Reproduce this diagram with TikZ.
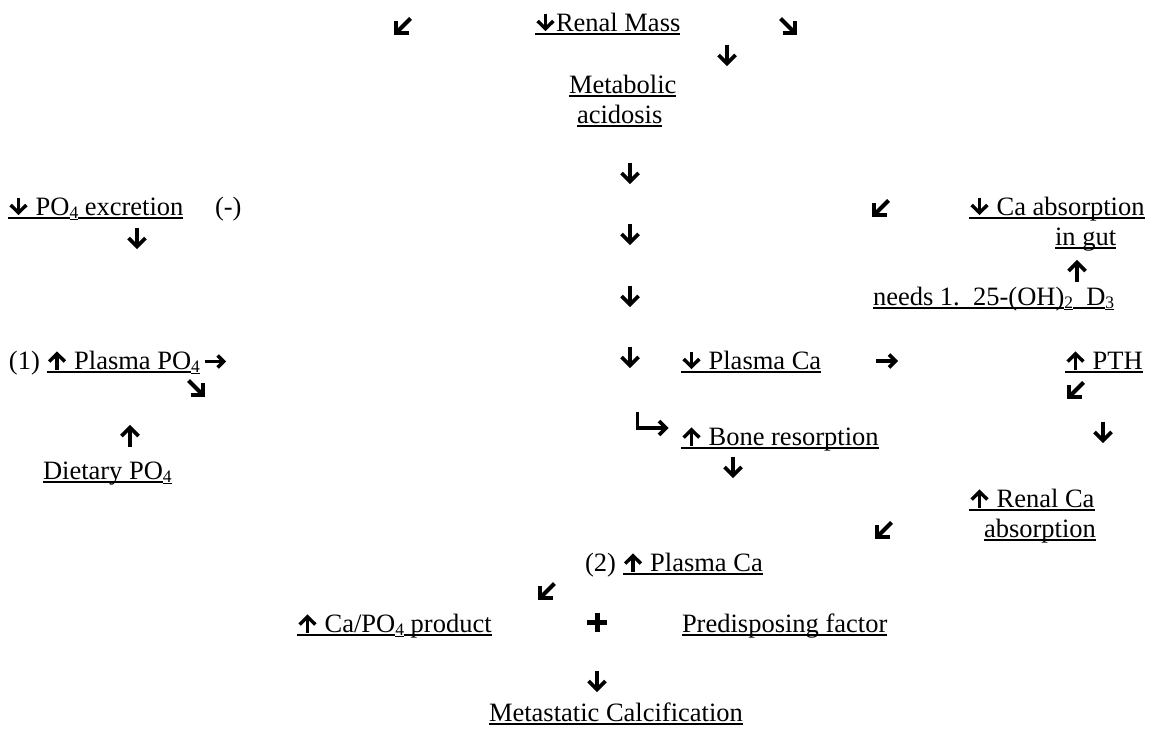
\documentclass[tikz,border=0pt]{standalone}
\usepackage{fontspec}
\setmainfont{Liberation Serif}
\newcommand{\ulx}[1]{\setbox0=\hbox{#1}\rlap{\rule[-3.6pt]{\wd0}{1.8pt}}\box0}
\newcommand{\sbu}[1]{\raisebox{-3.5pt}{\setbox0=\hbox{\fontsize{17.5}{18}\selectfont #1}\rlap{\rule[-1.8pt]{\wd0}{1.1pt}}\box0}}
\newcommand{\gdn}{\tikz[x=1pt,y=1pt,baseline=0pt,line width=3.5pt]{\path (-10.5,0) rectangle (10.5,17); \draw (0,17.5) -- (0,3); \draw[line join=miter] (-7.8,10) -- (0,2.3) -- (7.8,10);}}
\newcommand{\gup}{\tikz[x=1pt,y=1pt,baseline=0pt,line width=3.5pt]{\path (-10.5,0) rectangle (10.5,17); \draw (0,-0.5) -- (0,15); \draw[line join=miter] (-7.8,7.5) -- (0,15.2) -- (7.8,7.5);}}
\newcommand{\grt}{\tikz[x=1pt,y=1pt,baseline=0pt,line width=3.5pt]{\path (0,0) rectangle (23,15); \draw (1,7.5) -- (19,7.5); \draw[line join=miter] (14,1.5) -- (20,7.5) -- (14,13.5);}}
\tikzset{
  txt/.style={anchor=base west, inner sep=0pt, outer sep=0pt, font=\fontsize{26.5}{30}\selectfont},
  gline/.style={line width=3.6pt},
  dline/.style={line width=4.2pt},
  pics/gdown/.style={code={
    \draw[gline] (0,-10.5) -- (0,8);
    \draw[gline,line join=miter] (-8.5,0) -- (0,8.5) -- (8.5,0);
  }},
  pics/gright/.style={code={
    \draw[gline] (-11,0) -- (8,0);
    \draw[gline,line join=miter] (2,-6.5) -- (8.5,0) -- (2,6.5);
  }},
  pics/gdiag/.style={code={
    \draw[dline] (-7.5,-7.5) -- (5,5);
    \draw[dline,line join=miter] (-5.5,6.8) -- (6.8,6.8) -- (6.8,-5.5);
  }},
  pics/gplus/.style={code={
    \draw[line width=5pt] (-10,0) -- (10,0) (0,-9.5) -- (0,9.5);
  }}
}
\begin{document}
\begin{tikzpicture}[x=1pt,y=-1pt]
\useasboundingbox (0,0) rectangle (1156,728);
% text nodes
\node[txt] (renal) at (535,31) {\ulx{\gdn Renal Mass}};
\node[txt] (metab) at (569,93) {\ulx{Metabolic}};
\node[txt] (acid) at (577,123) {\ulx{acidosis}};
\node[txt] (po4ex) at (8,215) {\ulx{\gdn{} PO}\sbu{4}\ulx{ excretion}};
\node[txt] (minus) at (215,215) {(-)};
\node[txt] (caabs) at (969,215) {\ulx{\gdn{} Ca absorption}};
\node[txt] (ingut) at (1055,245) {\ulx{in gut}};
\node[txt] (needs) at (873,305) {\ulx{needs 1.\ \ 25-(OH)}\sbu{2}\ulx{\ \ D}\sbu{3}};
\node[txt] (plpo4) at (9,369) {(1) \ulx{\gup{} Plasma PO}\sbu{4}\hspace{3pt}\grt};
\node[txt] (plca) at (681,369) {\ulx{\gdn{} Plasma Ca}};
\node[txt] (pth) at (1065,369) {\ulx{\gup{} PTH}};
\node[txt] (bone) at (681,445) {\ulx{\gup{} Bone resorption}};
\node[txt] (diet) at (43,479) {\ulx{Dietary PO}\sbu{4}};
\node[txt] (renca) at (969,507) {\ulx{\gup{} Renal Ca}};
\node[txt] (absorb) at (984,537) {\ulx{absorption}};
\node[txt] (plca2) at (585,571) {(2) \ulx{\gup{} Plasma Ca}};
\node[txt] (capo4) at (297,632) {\ulx{\gup{} Ca/PO}\sbu{4}\ulx{ product}};
\node[txt] (predis) at (682,632) {\ulx{Predisposing factor}};
\node[txt] (metas) at (489,721) {\ulx{Metastatic Calcification}};
% arrow glyphs
\pic[xscale=-1] at (403,26) {gdiag};
\pic at (788,26) {gdiag};
\pic at (727,55) {gdown};
\pic at (630,173) {gdown};
\pic at (630,234) {gdown};
\pic at (630,296) {gdown};
\pic at (630,357) {gdown};
\pic at (137,238) {gdown};
\pic[xscale=-1] at (881,208) {gdiag};
\pic[rotate=180] at (1077,271) {gdown};
\pic at (887,361) {gright};
\pic at (196,388) {gdiag};
\pic[xscale=-1] at (1076,390) {gdiag};
\pic[rotate=180] at (130,436) {gdown};
\pic at (1103,432) {gdown};
\pic at (733,467) {gdown};
\pic[xscale=-1] at (884,530) {gdiag};
\pic[xscale=-1] at (547,591) {gdiag};
\pic at (597,622) {gplus};
\pic at (597,681) {gdown};
% hook arrow
\draw[gline,line join=miter] (637.5,412) -- (637.5,428) -- (665,428);
\draw[gline,line join=miter] (659,421) -- (666,428) -- (659,435);
\end{tikzpicture}
\end{document}
